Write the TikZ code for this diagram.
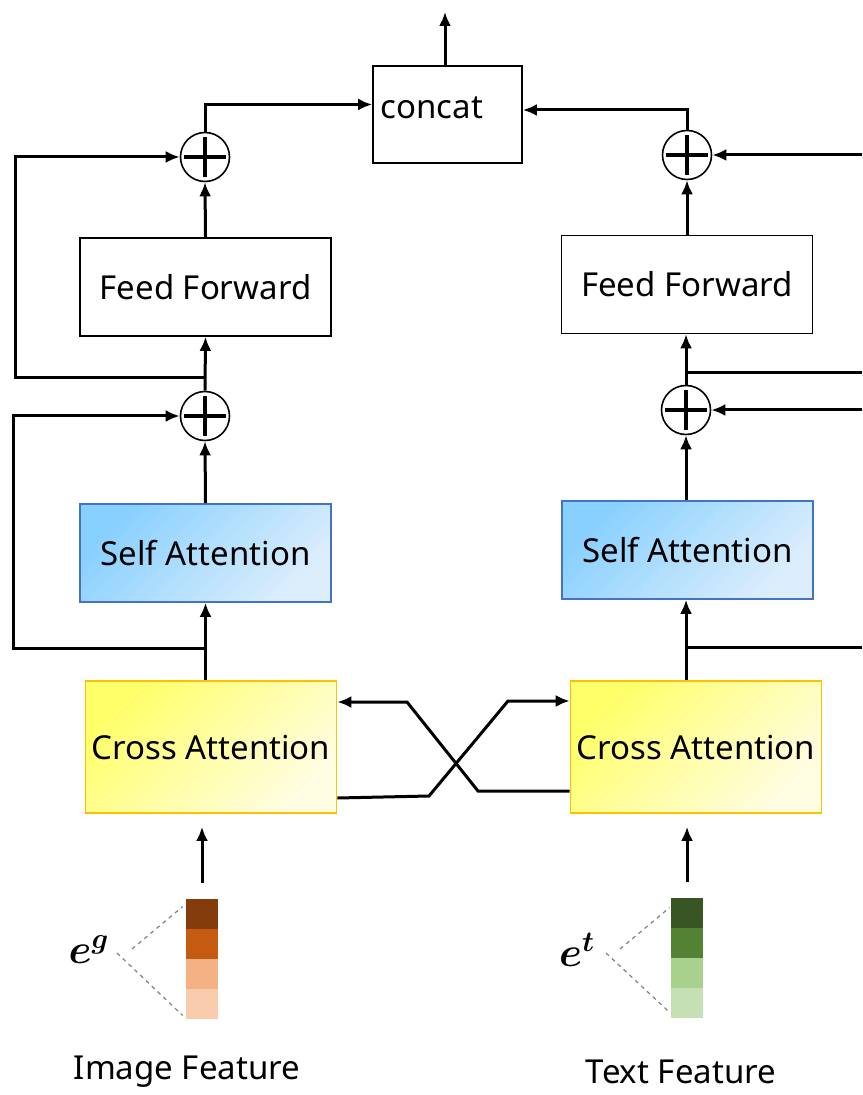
\documentclass[tikz,border=0pt]{standalone}
\usepackage{fontspec}
\setmainfont{Noto Sans}
\usepackage{amsmath}
\usetikzlibrary{arrows.meta}

\definecolor{saTop}{HTML}{88D0FF}
\definecolor{saBot}{HTML}{DCEEFC}
\definecolor{saLine}{HTML}{4472C4}
\definecolor{caTop}{HTML}{FFFF6A}
\definecolor{caBot}{HTML}{FFFDE2}
\definecolor{caLine}{HTML}{FFC000}
\definecolor{imgA}{HTML}{843C0C}
\definecolor{imgB}{HTML}{C55A11}
\definecolor{imgC}{HTML}{F4B183}
\definecolor{imgD}{HTML}{F8CBAD}
\definecolor{txtA}{HTML}{375623}
\definecolor{txtB}{HTML}{548235}
\definecolor{txtC}{HTML}{A9D18E}
\definecolor{txtD}{HTML}{C5E0B4}

\begin{document}
\begin{tikzpicture}[x=0.5pt, y=-0.5pt,
    every node/.style={font=\fontsize{16.5}{20}\selectfont},
    block/.style={draw, line width=0.8pt, minimum width=125.5pt, minimum height=49pt, inner sep=0pt},
    selfatt/.style={block, draw=saLine, top color=saTop, bottom color=saBot, shading angle=45},
    crossatt/.style={block, draw=caLine, minimum height=66pt, top color=caTop, bottom color=caBot, shading angle=45},
    add/.style={draw, circle, line width=0.8pt, minimum size=24.5pt, inner sep=0pt,
        path picture={
            \draw[line width=1.6pt] ([xshift=-10.5pt]path picture bounding box.center) -- ([xshift=10.5pt]path picture bounding box.center);
            \draw[line width=1.6pt] ([yshift=-10pt]path picture bounding box.center) -- ([yshift=10pt]path picture bounding box.center);
        }},
    cell/.style={minimum width=16pt, minimum height=15pt, inner sep=0pt},
    flow/.style={line width=1.5pt, -{Latex[length=7pt, width=6pt]}},
    link/.style={line width=1.5pt},
    vec/.style={font=\fontsize{21}{24}\selectfont},
    guide/.style={dashed, dash pattern=on 2pt off 2pt, gray, line width=0.6pt}]

    \useasboundingbox (0,0) rectangle (862,1095);

    % output block
    \node[draw, line width=0.8pt, minimum width=74.5pt, minimum height=48.5pt, inner sep=0pt,
        label={[name=concattext, anchor=west, inner sep=4pt, yshift=3.5pt]west:concat}] (concat) at (447.5,114.5) {};
    \coordinate (out) at (445,12);

    % image branch
    \node[block] (ffL) at (205.5,287) {Feed Forward};
    \node[selfatt] (saL) at (205.5,553) {Self Attention};
    \node[crossatt] (caL) at (211,747) {Cross Attention};
    \node[add] (addL1) at (205,157) {};
    \node[add] (addL2) at (205,416) {};
    \coordinate (tapL1) at (205,648);
    \coordinate (tapL2) at (205,378);

    % text branch
    \node[block] (ffR) at (687,284.5) {Feed Forward};
    \node[selfatt] (saR) at (687.5,550) {Self Attention};
    \node[crossatt] (caR) at (696,747) {Cross Attention};
    \node[add] (addR1) at (687,155) {};
    \node[add] (addR2) at (686,410) {};
    \coordinate (tapR1) at (686,647);
    \coordinate (tapR2) at (686,373);
    \coordinate (inR1) at (862,155);
    \coordinate (inR2) at (862,410);
    \coordinate (outR1) at (862,647);
    \coordinate (outR2) at (862,373);

    % feature vectors
    \node[cell, fill=imgA] (gL1) at (202,914) {};
    \node[cell, fill=imgB] (gL2) at (202,944) {};
    \node[cell, fill=imgC] (gL3) at (202,974) {};
    \node[cell, fill=imgD] (gL4) at (202,1004) {};
    \node[cell, fill=txtA] (gR1) at (687,913) {};
    \node[cell, fill=txtB] (gR2) at (687,943) {};
    \node[cell, fill=txtC] (gR3) at (687,973) {};
    \node[cell, fill=txtD] (gR4) at (687,1003) {};

    \node[vec] (eg) at (89,950) {$\boldsymbol{e}^{\boldsymbol{g}}$};
    \node[vec] (et) at (577,950) {$\boldsymbol{e}^{\boldsymbol{t}}$};
    \coordinate (egA) at (132,949);
    \coordinate (egB) at (117,953);
    \coordinate (etA) at (620,949);
    \coordinate (etB) at (606,953);

    \node (imgcap) at (187,1072) {Image Feature};
    \node (txtcap) at (681,1072) {Text Feature};

    % image branch connectors
    \draw[flow, shorten <=8pt, shorten >=6.5pt] (gL1.north) -- (gL1.north |- caL.south);
    \draw[flow] (saL.south |- caL.north) -- (saL.south);
    \draw[flow] (saL.north) -- (addL2.south);
    \draw[flow] (addL2.north) -- (ffL.south);
    \draw[flow] (ffL.north) -- (addL1.south);
    \draw[flow] (tapL1) -- ++(-192,0) |- (addL2.west);
    \draw[flow] (tapL2) -- ++(-190,0) |- (addL1.west);
    \draw[flow] (addL1.north) |- ([yshift=5pt]concat.west);

    % text branch connectors
    \draw[flow, shorten <=8pt, shorten >=6.5pt] (gR1.north) -- (gR1.north |- caR.south);
    \draw[flow] (tapR1 |- caR.north) -- (tapR1 |- saR.south);
    \draw[flow] (saR.north -| addR2) -- (addR2.south);
    \draw[flow] (addR2.north) -- (addR2 |- ffR.south);
    \draw[flow] (addR1 |- ffR.north) -- (addR1.south);
    \draw[link] (tapR1) -- (outR1);
    \draw[link] (tapR2) -- (outR2);
    \draw[flow] (inR2) -- (addR2.east);
    \draw[flow] (inR1) -- (addR1.east);
    \draw[flow] (addR1.north) |- ([yshift=2.25pt]concat.east);

    % exchange between the two cross attention blocks
    \draw[flow] ([yshift=-22pt]caR.west) -- (478,791) -- (407,702) -- (caL.east |- 0,702);
    \draw[flow] ([yshift=-25.5pt]caL.east) -- (429,796) -- (508,701) -- (caR.west |- 0,701);

    \draw[flow] (out |- concat.north) -- (out);

    % dashed guides to the vectors
    \draw[guide] (egA) -- ([shift={(-3,8)}]gL1.north west);
    \draw[guide] (egB) -- ([shift={(-3,-4)}]gL4.south west);
    \draw[guide] (etA) -- ([shift={(-1,10)}]gR1.north west);
    \draw[guide] (etB) -- ([shift={(-1,-6)}]gR4.south west);
\end{tikzpicture}
\end{document}
